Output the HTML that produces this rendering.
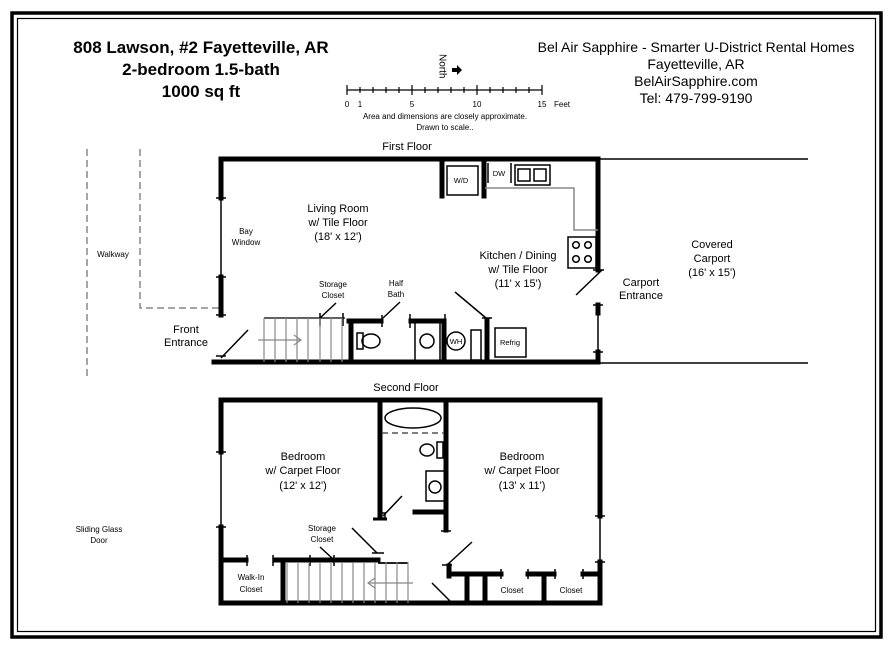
<!DOCTYPE html>
<html><head><meta charset="utf-8"><style>
html,body{margin:0;padding:0;background:#fff}
svg{display:block}
text{font-family:"Liberation Sans",Arial,sans-serif;fill:#000}
</style></head><body>
<svg width="894" height="650" viewBox="0 0 894 650" xmlns="http://www.w3.org/2000/svg">
<rect x="12" y="13" width="869" height="624" fill="none" stroke="#000" stroke-width="3.5"/>
<rect x="17.5" y="18.5" width="858" height="613" fill="none" stroke="#000" stroke-width="1.2"/>

<g font-weight="bold" font-size="17" text-anchor="middle">
<text x="201" y="53">808 Lawson, #2 Fayetteville, AR</text>
<text x="201" y="75">2-bedroom 1.5-bath</text>
<text x="201" y="97">1000 sq ft</text>
</g>
<g font-size="14" text-anchor="middle">
<text x="696" y="52">Bel Air Sapphire - Smarter U-District Rental Homes</text>
<text x="696" y="69">Fayetteville, AR</text>
<text x="696" y="86">BelAirSapphire.com</text>
<text x="696" y="103">Tel: 479-799-9190</text>
</g>

<!-- scale -->
<g stroke="#000" stroke-width="1.2">
<line x1="347" y1="90" x2="542" y2="90"/>
<g id="tk">
<line x1="347" y1="85" x2="347" y2="95"/><line x1="360" y1="87" x2="360" y2="93"/><line x1="373" y1="87" x2="373" y2="93"/><line x1="386" y1="87" x2="386" y2="93"/><line x1="399" y1="87" x2="399" y2="93"/>
<line x1="412" y1="85" x2="412" y2="95"/><line x1="425" y1="87" x2="425" y2="93"/><line x1="438" y1="87" x2="438" y2="93"/><line x1="451" y1="87" x2="451" y2="93"/><line x1="464" y1="87" x2="464" y2="93"/>
<line x1="477" y1="85" x2="477" y2="95"/><line x1="490" y1="87" x2="490" y2="93"/><line x1="503" y1="87" x2="503" y2="93"/><line x1="516" y1="87" x2="516" y2="93"/><line x1="529" y1="87" x2="529" y2="93"/>
<line x1="542" y1="85" x2="542" y2="95"/>
</g></g>
<g font-size="8" text-anchor="middle">
<text x="347" y="107">0</text><text x="360" y="107">1</text><text x="412" y="107">5</text><text x="477" y="107">10</text><text x="542" y="107">15</text>
<text x="445" y="119">Area and dimensions are closely approximate.</text>
<text x="445" y="130">Drawn to scale..</text>
</g>
<text x="554" y="107" font-size="8">Feet</text>
<text x="439" y="54" font-size="10" transform="rotate(90 439 54)" dominant-baseline="middle" dy="-3">North</text>
<polygon points="452,68 457,68 457,65 462,70 457,75 457,72 452,72" fill="#000"/>

<!-- walkway -->
<g stroke="#888" stroke-width="1.5" stroke-dasharray="7,4" fill="none">
<line x1="87" y1="149" x2="87" y2="378"/>
<polyline points="140,149 140,308 221,308"/>
</g>
<text x="113" y="257" font-size="8" text-anchor="middle">Walkway</text>

<!-- FIRST FLOOR -->
<text x="407" y="150" font-size="11" text-anchor="middle">First Floor</text>
<g stroke="#000" stroke-width="5" fill="none" stroke-linecap="square">
<polyline points="221,198 221,159 598,159 598,270"/>
<line x1="221" y1="277" x2="221" y2="315"/>
<line x1="214" y1="362" x2="598" y2="362"/>
<line x1="598" y1="305" x2="598" y2="313"/>
<line x1="598" y1="352" x2="598" y2="362"/>
<line x1="442" y1="159" x2="442" y2="196"/>
<line x1="484" y1="159" x2="484" y2="196"/>
<line x1="349" y1="321" x2="381" y2="321"/>
<line x1="351" y1="321" x2="351" y2="362"/>
<line x1="411" y1="321" x2="443" y2="321"/>
<line x1="444" y1="321" x2="444" y2="362"/>
<line x1="487" y1="320" x2="487" y2="362"/>
</g>
<g stroke="#000" stroke-width="1.5" fill="none">
<line x1="221" y1="198" x2="221" y2="277"/>
<line x1="216" y1="198" x2="226" y2="198"/><line x1="216" y1="277" x2="226" y2="277"/><line x1="216" y1="315" x2="226" y2="315"/>
<line x1="216" y1="356" x2="226" y2="356"/>
<line x1="221" y1="358" x2="248" y2="330"/>
<line x1="598" y1="313" x2="598" y2="352"/>
<line x1="593" y1="305" x2="603" y2="305"/><line x1="593" y1="352" x2="603" y2="352"/>
<line x1="593" y1="270" x2="604" y2="270"/>
<line x1="576" y1="295" x2="602" y2="270"/>
<rect x="447" y="166" width="31" height="29"/>
<line x1="488" y1="163" x2="488" y2="183"/><line x1="511" y1="163" x2="511" y2="183"/>
<rect x="515" y="165" width="35" height="20"/>
<rect x="518" y="169" width="12" height="12"/><rect x="534" y="169" width="12" height="12"/>
<rect x="568" y="237" width="28" height="31"/>
<circle cx="576" cy="245" r="3.3"/><circle cx="588" cy="245" r="3.3"/><circle cx="576" cy="259" r="3.3"/><circle cx="588" cy="259" r="3.3"/>
<line x1="320" y1="313" x2="320" y2="326"/><line x1="343" y1="313" x2="343" y2="326"/>
<line x1="320" y1="318" x2="336" y2="303"/>
<line x1="382" y1="315" x2="382" y2="327"/><line x1="383" y1="318" x2="400" y2="302"/>
<line x1="410" y1="314" x2="410" y2="328"/><line x1="445" y1="314" x2="445" y2="328"/>
<line x1="455" y1="292" x2="486" y2="318"/>
<line x1="482" y1="318" x2="492" y2="318"/>
<rect x="357" y="333" width="6" height="16"/><ellipse cx="371" cy="341" rx="9" ry="7"/>
<rect x="415" y="322" width="25" height="40"/><circle cx="427" cy="341" r="7"/>
<circle cx="456" cy="341" r="9"/>
<rect x="471" y="330" width="10" height="30"/>
<rect x="495" y="328" width="31" height="29"/>
<line x1="598" y1="159" x2="808" y2="159"/><line x1="598" y1="363" x2="808" y2="363"/>
</g>
<polyline points="485,188 574,188 574,230 598,230" stroke="#888" stroke-width="1.5" fill="none"/>
<g stroke="#888" stroke-width="1.2">
<line x1="264" y1="318" x2="345" y2="318" stroke="#000"/>
<line x1="264" y1="318" x2="264" y2="362"/><line x1="275" y1="318" x2="275" y2="362"/><line x1="286" y1="318" x2="286" y2="362"/><line x1="297" y1="318" x2="297" y2="362"/><line x1="308" y1="318" x2="308" y2="362"/><line x1="320" y1="318" x2="320" y2="362"/><line x1="331" y1="318" x2="331" y2="362"/><line x1="342" y1="318" x2="342" y2="362"/>
<line x1="258" y1="340" x2="301" y2="340"/><polyline points="294,335 301,340 294,345" fill="none"/>
</g>
<g font-size="7.5" text-anchor="middle">
<text x="461" y="183">W/D</text><text x="499" y="176">DW</text>
<text x="456" y="344">WH</text><text x="510" y="345">Refrig</text>
</g>
<g font-size="8" text-anchor="middle">
<text x="246" y="234">Bay</text><text x="246" y="245">Window</text>
<text x="333" y="287">Storage</text><text x="333" y="298">Closet</text>
<text x="396" y="286">Half</text><text x="396" y="297">Bath</text>
</g>
<g font-size="11" text-anchor="middle">
<text x="338" y="212">Living Room</text><text x="338" y="226">w/ Tile Floor</text><text x="338" y="240">(18' x 12')</text>
<text x="518" y="259">Kitchen / Dining</text><text x="518" y="273">w/ Tile Floor</text><text x="518" y="287">(11' x 15')</text>
<text x="712" y="248">Covered</text><text x="712" y="262">Carport</text><text x="712" y="276">(16' x 15')</text>
<text x="641" y="286">Carport</text><text x="641" y="299">Entrance</text>
<text x="186" y="333">Front</text><text x="186" y="346">Entrance</text>
</g>

<!-- SECOND FLOOR -->
<text x="406" y="391" font-size="11" text-anchor="middle">Second Floor</text>
<g stroke="#000" stroke-width="5" fill="none" stroke-linecap="square">
<polyline points="221,452 221,400 600,400 600,516"/>
<polyline points="221,527 221,603 600,603 600,562"/>
<line x1="380" y1="400" x2="380" y2="517"/>
<line x1="446" y1="400" x2="446" y2="530"/>
<line x1="415" y1="512" x2="446" y2="512"/>
<line x1="223" y1="560" x2="246" y2="560"/>
<line x1="275" y1="560" x2="378" y2="560"/>
<line x1="283" y1="560" x2="283" y2="603"/>
<line x1="449" y1="574" x2="501" y2="574"/>
<line x1="449" y1="566" x2="449" y2="576"/>
<line x1="467" y1="574" x2="467" y2="603"/><line x1="485" y1="574" x2="485" y2="603"/>
<line x1="528" y1="574" x2="554" y2="574"/><line x1="544" y1="574" x2="544" y2="603"/>
<line x1="583" y1="574" x2="600" y2="574"/>
</g>
<g stroke="#000" stroke-width="1.5" fill="none">
<line x1="221" y1="452" x2="221" y2="527"/>
<line x1="216" y1="452" x2="226" y2="452"/><line x1="216" y1="527" x2="226" y2="527"/>
<line x1="600" y1="516" x2="600" y2="562"/>
<line x1="595" y1="516" x2="605" y2="516"/><line x1="595" y1="562" x2="605" y2="562"/>
<line x1="247" y1="555" x2="247" y2="566"/><line x1="273" y1="555" x2="273" y2="566"/>
<line x1="441" y1="531" x2="451" y2="531"/>
<ellipse cx="413" cy="418" rx="28" ry="10"/>
<line x1="382" y1="433" x2="444" y2="433" stroke="#555" stroke-dasharray="6,4"/>
<ellipse cx="427" cy="450" rx="7" ry="6"/><rect x="437" y="442" width="6" height="16"/>
<rect x="426" y="471" width="20" height="30"/><circle cx="435" cy="487" r="6"/>
<rect x="380" y="513" width="5" height="5"/><line x1="373" y1="519" x2="387" y2="519" stroke-width="3"/>
<line x1="383" y1="516" x2="402" y2="496"/>
<line x1="310" y1="555" x2="310" y2="566"/><line x1="334" y1="555" x2="334" y2="566"/>
<line x1="320" y1="547" x2="333" y2="559"/>
<line x1="352" y1="528" x2="377" y2="553"/>
<line x1="372" y1="553" x2="384" y2="553"/>
<line x1="378" y1="563" x2="408" y2="563" stroke-width="1.8"/>
<line x1="447" y1="565" x2="472" y2="542"/><line x1="442" y1="565" x2="452" y2="565"/>
<line x1="432" y1="583" x2="450" y2="601"/>
<line x1="501" y1="569" x2="501" y2="579"/><line x1="528" y1="569" x2="528" y2="579"/><line x1="555" y1="569" x2="555" y2="579"/><line x1="583" y1="569" x2="583" y2="579"/>
</g>
<g stroke="#888" stroke-width="1.2">
<line x1="287" y1="562" x2="287" y2="603"/><line x1="298" y1="562" x2="298" y2="603"/><line x1="309" y1="562" x2="309" y2="603"/><line x1="320" y1="562" x2="320" y2="603"/><line x1="331" y1="562" x2="331" y2="603"/><line x1="342" y1="562" x2="342" y2="603"/><line x1="353" y1="562" x2="353" y2="603"/><line x1="364" y1="562" x2="364" y2="603"/><line x1="375" y1="562" x2="375" y2="603"/><line x1="386" y1="562" x2="386" y2="603"/><line x1="397" y1="562" x2="397" y2="603"/><line x1="408" y1="562" x2="408" y2="603"/>
<line x1="368" y1="583" x2="413" y2="583"/><polyline points="375,578 368,583 375,588" fill="none"/>
</g>
<g font-size="11" text-anchor="middle">
<text x="303" y="460">Bedroom</text><text x="303" y="474">w/ Carpet Floor</text><text x="303" y="489">(12' x 12')</text>
<text x="522" y="460">Bedroom</text><text x="522" y="474">w/ Carpet Floor</text><text x="522" y="489">(13' x 11')</text>
</g>
<g font-size="8" text-anchor="middle">
<text x="322" y="531">Storage</text><text x="322" y="542">Closet</text>
<text x="251" y="580">Walk-In</text><text x="251" y="592">Closet</text>
<text x="512" y="593">Closet</text><text x="571" y="593">Closet</text>
<text x="99" y="532">Sliding Glass</text><text x="99" y="543">Door</text>
</g>
</svg>
</body></html>
